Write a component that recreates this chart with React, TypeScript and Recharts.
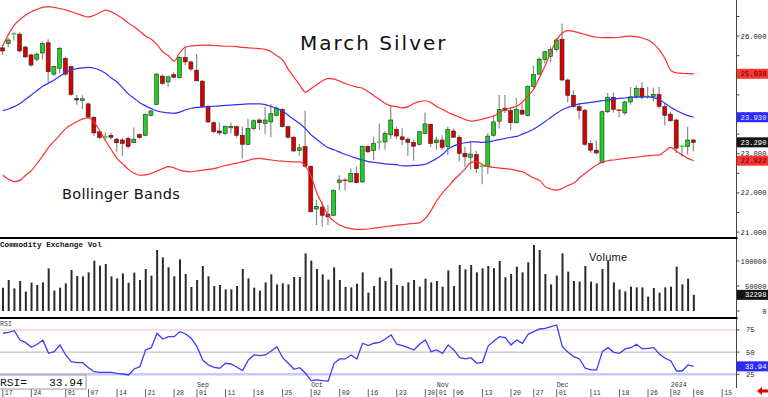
import { ComposedChart, Bar, Line, XAxis, YAxis, ReferenceLine } from "recharts";

const W = 768;
const AXIS_W = 31.5;
const AXIS_X = W - AXIS_W;
const SLOTS = 129; // trading days Jul 17 2023 .. Jan 19 2024 (last bars empty)

// daily OHLC, Jul 17 2023 .. Jan 08 2024
const OPEN = [
  25.7, 25.81, 26.03, 26.05, 25.72, 25.52, 25.41, 25.57, 25.83, 25.03,
  25.18, 25.43, 25.22, 24.41, 24.36, 24.27, 23.93, 23.56, 23.4, 23.47,
  23.37, 23.35, 23.39, 23.28, 23.49, 23.47, 23.98, 24.26, 24.98, 24.83,
  25.02, 24.94, 25.46, 25.34, 25.13, 24.85, 24.21, 23.79, 23.58, 23.52,
  23.66, 23.69, 23.47, 23.24, 23.64, 23.86, 23.77, 23.81, 23.98, 24.13,
  23.69, 23.42, 23.08, 23.18, 22.68, 21.59, 21.64, 21.46, 21.43, 22.27,
  22.32, 22.28, 22.5, 22.28, 23.19, 23.08, 23.28, 23.3, 23.48, 23.62,
  23.43, 23.37, 23.29, 23.24, 23.52, 23.75, 23.28, 23.35, 23.18, 23.58,
  23.42, 23.01, 22.91, 22.98, 22.67, 22.67, 23.47, 23.83, 24.16, 24.1,
  23.79, 24.11, 23.97, 24.71, 25.03, 25.4, 25.48, 25.66, 25.92, 24.88,
  24.49, 24.2, 24.11, 23.26, 23.09, 22.77, 24.07, 24.44, 24.11, 24.04,
  24.32, 24.44, 24.67, 24.45, 24.46, 24.51, 24.2, 24.01, 23.86, 23.18,
  23.18, 23.35,
];
const HIGH = [
  25.78, 25.95, 26.1, 26.1, 25.75, 25.55, 25.58, 25.86, 25.92, 25.25,
  25.72, 25.47, 25.25, 24.5, 24.49, 24.3, 23.95, 23.6, 23.55, 23.53,
  23.4, 23.4, 23.43, 23.67, 23.52, 24.03, 24.11, 25.06, 25.02, 25.0,
  25.08, 25.48, 25.75, 25.38, 25.54, 24.88, 24.24, 23.83, 23.8, 23.72,
  23.79, 23.72, 23.69, 23.89, 23.88, 23.9, 24.2, 24.27, 24.21, 24.16,
  23.72, 23.45, 23.25, 24.1, 22.7, 21.82, 21.78, 21.7, 22.08, 22.45,
  22.38, 22.62, 22.67, 23.21, 23.21, 23.43, 23.77, 23.57, 24.22, 23.69,
  23.65, 23.42, 23.36, 23.58, 24.05, 23.77, 23.43, 23.47, 23.69, 23.64,
  23.48, 23.18, 23.3, 23.07, 22.7, 23.52, 23.98, 24.5, 24.5, 24.16,
  24.42, 24.28, 24.75, 25.25, 25.47, 25.62, 25.73, 25.95, 26.32, 24.92,
  24.62, 24.28, 24.14, 23.34, 23.34, 24.11, 24.55, 24.56, 24.12, 24.36,
  24.7, 24.74, 24.82, 24.7, 24.68, 24.7, 24.29, 24.07, 23.9, 23.23,
  23.69, 23.37,
];
const LOW = [
  25.52, 25.72, 25.88, 25.58, 25.44, 25.22, 25.36, 25.4, 24.83, 24.98,
  25.05, 24.98, 24.48, 24.25, 24.14, 23.9, 23.46, 23.37, 23.36, 23.36,
  23.05, 22.95, 23.13, 23.27, 23.38, 23.45, 23.95, 24.24, 24.76, 24.7,
  24.93, 24.92, 25.26, 25.1, 24.84, 24.18, 23.78, 23.52, 23.47, 23.48,
  23.52, 23.42, 22.87, 23.22, 23.6, 23.6, 23.5, 23.42, 23.95, 23.66,
  23.39, 23.04, 22.95, 22.65, 21.5, 21.18, 21.14, 21.18, 21.4, 22.07,
  22.07, 22.27, 22.24, 22.25, 23.02, 22.83, 23.1, 23.1, 23.38, 23.37,
  23.22, 22.95, 22.82, 23.2, 23.5, 23.17, 23.1, 23.1, 22.97, 23.4,
  22.8, 22.67, 22.59, 22.51, 22.22, 22.48, 23.43, 23.64, 24.04, 23.6,
  23.77, 23.98, 23.95, 24.66, 25.0, 25.3, 25.33, 25.6, 24.85, 24.31,
  24.18, 23.87, 23.2, 23.02, 22.98, 22.75, 24.04, 24.05, 23.93, 23.98,
  24.25, 24.4, 24.38, 24.4, 24.33, 24.15, 23.72, 23.82, 23.01, 22.92,
  22.98, 23.06,
];
const CLOSE = [
  25.62, 25.9, 26.06, 25.62, 25.47, 25.26, 25.54, 25.81, 25.09, 25.22,
  25.69, 25.03, 24.51, 24.37, 24.4, 23.93, 23.53, 23.41, 23.43, 23.42,
  23.28, 23.26, 23.18, 23.37, 23.41, 24.0, 24.09, 25.03, 24.79, 24.96,
  24.95, 25.45, 25.34, 25.16, 24.86, 24.2, 23.81, 23.56, 23.53, 23.7,
  23.7, 23.47, 23.24, 23.64, 23.84, 23.79, 23.86, 24.02, 24.16, 23.69,
  23.42, 23.07, 23.15, 22.68, 21.52, 21.65, 21.43, 21.39, 22.07, 22.33,
  22.3, 22.5, 22.26, 23.19, 23.05, 23.26, 23.3, 23.52, 23.86, 23.45,
  23.36, 23.29, 23.19, 23.56, 23.76, 23.26, 23.35, 23.16, 23.62, 23.42,
  23.01, 22.92, 22.99, 22.62, 22.68, 23.45, 23.81, 24.13, 24.1, 23.79,
  24.13, 24.01, 24.71, 25.02, 25.41, 25.6, 25.66, 25.9, 24.88, 24.49,
  24.2, 24.1, 23.24, 23.09, 23.02, 24.07, 24.44, 24.13, 24.09, 24.32,
  24.45, 24.66, 24.44, 24.46, 24.51, 24.21, 23.98, 23.84, 23.14, 23.19,
  23.35, 23.29,
];

// Bollinger bands
const BB_UPPER = [
  25.75, 26.05, 26.28, 26.42, 26.54, 26.62, 26.68, 26.73, 26.75, 26.73,
  26.7, 26.67, 26.62, 26.57, 26.52, 26.49, 26.53, 26.6, 26.66, 26.62,
  26.54, 26.45, 26.33, 26.24, 26.12, 26.0, 25.92, 25.78, 25.6, 25.5,
  25.36, 25.58, 25.72, 25.75, 25.76, 25.77, 25.77, 25.76, 25.75, 25.74,
  25.74, 25.73, 25.71, 25.7, 25.69, 25.68, 25.66, 25.6, 25.5, 25.39,
  25.15, 24.95, 24.75, 24.57, 24.66, 24.76, 24.86, 24.92, 24.9, 24.85,
  24.79, 24.74, 24.7, 24.67, 24.58, 24.48, 24.38, 24.28, 24.22, 24.2,
  24.17, 24.2, 24.28, 24.33, 24.35, 24.3, 24.2, 24.13, 24.05, 23.99,
  23.93, 23.87, 23.83, 23.85, 23.88, 23.92, 23.96, 24.05, 24.12, 24.17,
  24.21, 24.32, 24.48, 24.65, 24.95, 25.25, 25.6, 25.9, 26.08, 26.14,
  26.12, 26.08, 26.04, 26.0, 25.97, 25.96, 25.96, 25.96, 25.97, 25.99,
  26.0, 25.98, 25.95, 25.9, 25.8, 25.64, 25.42, 25.12, 25.06, 25.05,
  25.04, 25.04,
];
const BB_MID = [
  24.1, 24.14, 24.2, 24.28, 24.39, 24.5, 24.61, 24.72, 24.8, 24.88,
  24.98, 25.07, 25.14, 25.17, 25.19, 25.2, 25.18, 25.13, 25.05, 24.93,
  24.83, 24.68, 24.52, 24.41, 24.3, 24.22, 24.15, 24.09, 24.06, 24.04,
  24.03, 24.06, 24.12, 24.16, 24.18, 24.19, 24.2, 24.21, 24.22, 24.23,
  24.24, 24.25, 24.26, 24.27, 24.27, 24.27, 24.25, 24.2, 24.16, 24.08,
  23.98, 23.87, 23.77, 23.64, 23.48, 23.36, 23.25, 23.15, 23.1, 23.04,
  22.98, 22.93, 22.88, 22.84, 22.8, 22.78, 22.76, 22.74, 22.73, 22.72,
  22.69, 22.69, 22.7, 22.71, 22.73, 22.8, 22.88, 22.98, 23.12, 23.2,
  23.25, 23.28, 23.3, 23.3, 23.29, 23.3, 23.33, 23.36, 23.39, 23.42,
  23.44, 23.5, 23.56, 23.63, 23.72, 23.82, 23.93, 24.03, 24.12, 24.18,
  24.23, 24.27, 24.29, 24.31, 24.33, 24.35, 24.37, 24.39, 24.41, 24.42,
  24.44, 24.45, 24.45, 24.45, 24.43, 24.38, 24.28, 24.18, 24.1, 24.03,
  23.97, 23.93,
];
const BB_LOWER = [
  22.45, 22.35, 22.29, 22.32, 22.45, 22.57, 22.75, 22.95, 23.16, 23.32,
  23.48, 23.64, 23.74, 23.82, 23.89, 23.91, 23.8, 23.58, 23.33, 23.1,
  22.88, 22.74, 22.6, 22.5, 22.45, 22.46, 22.5, 22.56, 22.62, 22.67,
  22.64, 22.58, 22.55, 22.54, 22.56, 22.58, 22.6, 22.62, 22.66, 22.7,
  22.73, 22.76, 22.79, 22.83, 22.87, 22.88, 22.86, 22.84, 22.82, 22.81,
  22.8, 22.79, 22.79, 22.68, 22.42, 22.0, 21.7, 21.42, 21.28, 21.18,
  21.12, 21.09, 21.07, 21.07, 21.08, 21.1, 21.12, 21.14, 21.16, 21.18,
  21.19, 21.21, 21.22, 21.24, 21.35, 21.55, 21.8, 22.0, 22.16, 22.33,
  22.47, 22.62, 22.78, 22.8, 22.72, 22.67, 22.65, 22.63, 22.62, 22.6,
  22.57, 22.54, 22.46, 22.38, 22.32, 22.16, 22.1, 22.07, 22.12, 22.19,
  22.25, 22.38, 22.5, 22.61, 22.71, 22.79, 22.82, 22.84, 22.86, 22.88,
  22.9, 22.91, 22.93, 22.95, 22.96, 22.97, 23.07, 23.16, 23.06, 22.97,
  22.88, 22.82,
];

const VOLUME = [
  46600, 62000, 45300, 60000, 38700, 56700, 52000, 57300, 85300, 40700,
  46600, 55300, 82000, 70000, 69300, 77300, 100700, 90700, 94000, 69300,
  65300, 75300, 56700, 76700, 62000, 84000, 70700, 122000, 107300, 87300,
  69300, 103300, 74000, 48000, 62000, 90000, 69300, 50000, 52000, 43300,
  43300, 50000, 84000, 65300, 46600, 40700, 57300, 73300, 53300, 55300,
  53300, 68000, 68000, 115300, 100700, 84000, 73300, 62700, 87300, 62000,
  48000, 47300, 54700, 77300, 36700, 50000, 67300, 60000, 85300, 52000,
  50000, 57300, 62000, 48700, 64700, 57300, 60000, 48700, 81300, 50000,
  92000, 83300, 92000, 77300, 85300, 90000, 85300, 100000, 67300, 74000,
  88700, 77300, 97300, 132000, 122000, 74000, 53300, 70700, 115300, 78700,
  60000, 58700, 90000, 58700, 55300, 84000, 100000, 57300, 43300, 39300,
  48700, 47300, 47300, 28700, 46000, 36700, 47300, 48700, 88700, 53300,
  64700, 32298,
];

const RSI = [
  71.3, 72.4, 74.2, 63.7, 60.7, 55.5, 58.9, 63.4, 48.7, 50.5,
  58.1, 46.8, 39.2, 38.1, 38.1, 32.4, 27.9, 27.2, 27.2, 27.2,
  26.1, 25.3, 24.2, 31.0, 33.6, 52.4, 55.0, 71.3, 64.8, 67.4,
  67.4, 73.1, 70.5, 65.6, 56.2, 41.1, 35.5, 32.9, 31.8, 37.4,
  36.6, 32.9, 29.1, 41.1, 46.8, 46.0, 46.8, 51.3, 56.2, 43.7,
  37.4, 30.6, 32.4, 26.1, 17.8, 18.6, 17.8, 17.4, 37.4, 42.3,
  42.3, 46.8, 42.3, 60.0, 57.3, 60.0, 61.1, 64.8, 69.3, 58.9,
  57.3, 55.0, 52.4, 58.9, 63.7, 50.5, 52.4, 48.7, 58.1, 52.4,
  43.7, 42.3, 43.7, 37.4, 38.5, 56.9, 62.6, 67.4, 66.3, 58.1,
  63.7, 60.0, 70.1, 73.1, 76.1, 76.9, 78.7, 80.6, 56.2, 49.8,
  44.9, 42.3, 31.8, 29.9, 29.9, 50.5, 55.0, 49.8, 48.7, 53.6,
  55.0, 58.9, 53.6, 54.3, 55.0, 47.9, 43.1, 40.0, 28.7, 28.7,
  35.5, 33.94,
];

// x axis labels
const TICK_SLOTS = [0, 5, 11, 15, 20, 25, 30, 34, 39, 44, 49, 54, 59, 64, 69, 74, 76, 79, 84, 89, 93, 97, 103, 108, 113, 117, 121, 126];
const TICK_LABELS = ["17", "24", "01", "07", "14", "21", "28", "01", "11", "18", "25", "02", "09", "16", "23", "30", "01", "06", "13", "20", "27", "01", "11", "18", "26", "02", "08", "15"];
const MONTH_SLOTS = [34, 54, 76, 97, 117];
const MONTH_LABELS = ["Sep", "Oct", "Nov", "Dec", "2024"];

// y axis ticks and last-value flags
const PRICE_TICKS = [21, 21.5, 22, 22.5, 23, 23.5, 24, 24.5, 25, 25.5, 26, 26.5];
const PRICE_FLAGS = [25.038, 23.93, 23.29, 22.822];
const VOL_TICKS = [0, 50000, 100000];
const VOL_FLAG = 32298;
const RSI_TICKS = [25, 50, 75];
const RSI_FLAG = 33.94;

const FLAG_COLORS = [
  { bg: "#ff3434", fg: "#5a0000" },
  { bg: "#2b2bff", fg: "#e4e4ff" },
  { bg: "#141414", fg: "#ffffff" },
  { bg: "#ff3434", fg: "#5a0000" },
];

const MONO = "'Liberation Mono', 'DejaVu Sans Mono', monospace";

const data = Array.from({ length: SLOTS }, (_, i) =>
  i < CLOSE.length
    ? {
        i,
        o: OPEN[i],
        h: HIGH[i],
        l: LOW[i],
        c: CLOSE[i],
        range: [LOW[i], HIGH[i]],
        v: VOLUME[i],
        rsi: RSI[i],
        up: BB_UPPER[i],
        mid: BB_MID[i],
        lo: BB_LOWER[i],
      }
    : { i }
);

function Candle(props: any) {
  const { x, y, width, height, payload } = props;
  if (!payload || payload.h == null || height == null) return null;
  const top = Math.min(y, y + height);
  const bot = Math.max(y, y + height);
  const span = payload.h - payload.l || 0.0001;
  const toY = (v: number) => bot - ((v - payload.l) / span) * (bot - top);
  const cx = x + width / 2;
  const up = payload.c >= payload.o;
  const yo = toY(payload.o);
  const yc = toY(payload.c);
  const bt = Math.min(yo, yc);
  const bh = Math.abs(yo - yc);
  return (
    <g>
      <line x1={cx} x2={cx} y1={top} y2={bot} stroke="#8c8c8c" strokeWidth={1.2} />
      {bh < 1.2 ? (
        <line x1={cx - 2.5} x2={cx + 2.5} y1={bt} y2={bt} stroke={up ? "#3ad83a" : "#e01010"} strokeWidth={1.5} />
      ) : (
        <rect x={cx - 2} y={bt} width={4} height={bh} fill={up ? "#22d022" : "#d80000"} stroke="#2a2a2a" strokeWidth={0.6} />
      )}
    </g>
  );
}

function PriceTick({ y, payload }: any) {
  const v = payload.value;
  const k = PRICE_FLAGS.indexOf(v);
  if (k >= 0) {
    const c = FLAG_COLORS[k];
    return (
      <g>
        <rect x={AXIS_X + 0.5} y={y - 5} width={W - AXIS_X} height={10} fill={c.bg} />
        <text x={766.5} y={y + 2.5} textAnchor="end" fontSize={7.2} fontFamily={MONO} fill={c.fg}>
          {v.toFixed(3)}
        </text>
      </g>
    );
  }
  // 25.000 sits fully under the 25.038 flag in the source, so it is not drawn
  if (!Number.isInteger(v) || v === 25) return null;
  return (
    <text x={766.5} y={y + 2.5} textAnchor="end" fontSize={7.2} fontFamily={MONO} fill="#222">
      {v.toFixed(3)}
    </text>
  );
}

function VolTick({ y, payload }: any) {
  const v = payload.value;
  if (v === VOL_FLAG) {
    return (
      <g>
        <rect x={AXIS_X + 0.5} y={y - 5} width={W - AXIS_X} height={10} fill="#141414" />
        <text x={766.5} y={y + 2.5} textAnchor="end" fontSize={7.2} fontFamily={MONO} fill="#fff">
          {v}
        </text>
      </g>
    );
  }
  return (
    <text x={766.5} y={y + 2.5} textAnchor="end" fontSize={7.2} fontFamily={MONO} fill="#222">
      {v}
    </text>
  );
}

function RsiTick({ y, payload }: any) {
  const v = payload.value;
  if (v === RSI_FLAG) {
    return (
      <g>
        <rect x={AXIS_X + 0.5} y={y - 5} width={W - AXIS_X} height={10} fill="#2b2bff" />
        <text x={766.5} y={y + 2.5} textAnchor="end" fontSize={7.2} fontFamily={MONO} fill="#fff">
          {v.toFixed(2)}
        </text>
      </g>
    );
  }
  return (
    <text x={746} y={y + 2.5} fontSize={7.2} fontFamily={MONO} fill="#222">
      {v}
    </text>
  );
}

function DateTick({ x, y, payload }: any) {
  const k = TICK_SLOTS.indexOf(payload.value);
  if (k < 0) return null;
  const m = MONTH_SLOTS.indexOf(payload.value);
  return (
    <g>
      <line x1={x} x2={x} y1={y + 1} y2={y + 9} stroke="#666" strokeWidth={1} />
      <text x={x + 2} y={y + 7} fontSize={6.6} fontFamily={MONO} fill="#333">
        {TICK_LABELS[k]}
      </text>
      {m >= 0 && (
        <text x={x} y={y - 1.5} fontSize={6.6} fontFamily={MONO} fill="#333">
          {MONTH_LABELS[m]}
        </text>
      )}
    </g>
  );
}

const noMargin = { top: 0, right: 0, bottom: 0, left: 0 };

export default function App() {
  return (
    <div style={{ position: "absolute", left: 0, top: 0, width: W, height: 397, background: "#fff", overflow: "hidden" }}>
      <div style={{ position: "absolute", left: 0, top: 0 }}>
        <ComposedChart width={W} height={238} data={data} margin={noMargin}>
          <XAxis dataKey="i" type="category" scale="band" hide />
          <YAxis
            orientation="right"
            width={AXIS_W}
            domain={[20.85, 26.92]}
            allowDataOverflow
            ticks={[...PRICE_TICKS, ...PRICE_FLAGS]}
            interval={0}
            tick={<PriceTick />}
            tickSize={3}
            tickLine={{ stroke: "#444" }}
            axisLine={{ stroke: "#444" }}
          />
          <Line dataKey="up" type="monotone" stroke="#ff3030" strokeWidth={1.2} dot={false} activeDot={false} isAnimationActive={false} />
          <Line dataKey="lo" type="monotone" stroke="#ff3030" strokeWidth={1.2} dot={false} activeDot={false} isAnimationActive={false} />
          <Line dataKey="mid" type="monotone" stroke="#3030ff" strokeWidth={1.2} dot={false} activeDot={false} isAnimationActive={false} />
          <Bar dataKey="range" barSize={5} shape={(p: any) => <Candle {...p} />} activeBar={false} isAnimationActive={false} />
        </ComposedChart>
      </div>
      <div style={{ position: "absolute", left: 0, top: 238 }}>
        <ComposedChart width={W} height={80} data={data} margin={noMargin}>
          <XAxis dataKey="i" type="category" scale="band" hide />
          <YAxis
            orientation="right"
            width={AXIS_W}
            domain={[-14000, 146000]}
            allowDataOverflow
            ticks={[...VOL_TICKS, VOL_FLAG]}
            interval={0}
            tick={<VolTick />}
            tickSize={3}
            tickLine={{ stroke: "#444" }}
            axisLine={{ stroke: "#444" }}
          />
          <Bar dataKey="v" barSize={2} fill="#2a2a2a" activeBar={false} isAnimationActive={false} />
        </ComposedChart>
      </div>
      <div style={{ position: "absolute", left: 0, top: 318 }}>
        <ComposedChart width={W} height={79} data={data} margin={noMargin}>
          <XAxis
            dataKey="i"
            type="category"
            scale="band"
            height={9}
            interval={0}
            axisLine={false}
            tickLine={false}
            tickSize={0}
            tickMargin={0}
            tick={<DateTick />}
          />
          <YAxis
            orientation="right"
            width={AXIS_W}
            domain={[9.5, 88.5]}
            allowDataOverflow
            ticks={[...RSI_TICKS, RSI_FLAG]}
            interval={0}
            tick={<RsiTick />}
            tickSize={3}
            tickLine={{ stroke: "#444" }}
            axisLine={{ stroke: "#444" }}
          />
          <ReferenceLine y={75} stroke="#ffb4b4" strokeWidth={1} />
          <ReferenceLine y={50} stroke="#b4b4b4" strokeWidth={1} />
          <ReferenceLine y={25} stroke="#c8c8ff" strokeWidth={2.5} />
          <Line dataKey="rsi" type="linear" stroke="#3c3cff" strokeWidth={1.3} dot={false} activeDot={false} isAnimationActive={false} />
        </ComposedChart>
      </div>
      <svg width={W} height={397} style={{ position: "absolute", left: 0, top: 0, pointerEvents: "none" }}>
        <line x1={0} x2={AXIS_X + 1} y1={238} y2={238} stroke="#000" strokeWidth={2} />
        <line x1={0} x2={AXIS_X + 1} y1={318} y2={318} stroke="#000" strokeWidth={2} />
        <text x={300} y={50} fontSize={20} fontFamily="'DejaVu Sans', sans-serif" letterSpacing={2} fill="#111">
          March Silver
        </text>
        <text x={62} y={199} fontSize={14.5} fontFamily="'DejaVu Sans', sans-serif" letterSpacing={0.3} fill="#111">
          Bollinger Bands
        </text>
        <text x={589} y={261} fontSize={11} fontFamily="'Liberation Sans', sans-serif" letterSpacing={0.3} fill="#111">
          Volume
        </text>
        <text x={0} y={247} fontSize={7.7} fontWeight="bold" fontFamily={MONO} fill="#111">
          Commodity Exchange Vol
        </text>
        <text x={0} y={326} fontSize={6.6} fontFamily={MONO} fill="#444">
          RSI
        </text>
        <rect x={-1} y={375} width={87} height={14} fill="#fff" stroke="#999" strokeWidth={1} />
        <text x={0} y={386} fontSize={11.3} fontFamily={MONO} fill="#111">
          RSI=
        </text>
        <text x={49} y={386} fontSize={11.3} fontFamily={MONO} fill="#111">
          33.94
        </text>
        <polygon points="757,391 762,387 762,389.6 768,389.6 768,392.4 762,392.4 762,395" fill="#e00000" />
      </svg>
    </div>
  );
}
